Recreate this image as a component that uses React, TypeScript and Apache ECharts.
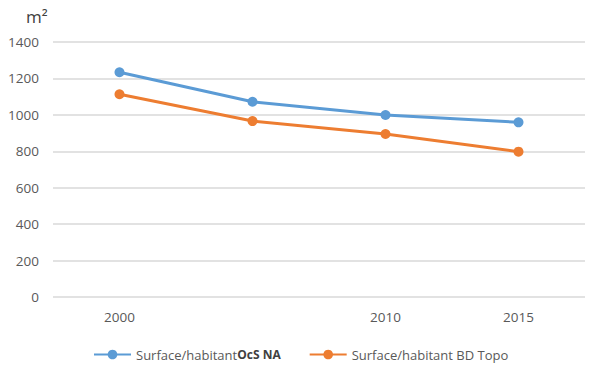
import React, { useEffect, useRef } from "react";
import * as echarts from "echarts";

const categories = ["2000", "", "2010", "2015"];
const ocsNA = [1234, 1072, 999, 959];
const bdTopo = [1113, 966, 895, 798];
const seriesNames = ["Surface/habitantOcS NA", "Surface/habitant BD Topo"];

export default function App() {
  const ref = useRef<HTMLDivElement>(null);
  useEffect(() => {
    document.body.style.margin = "0";
    const chart = echarts.init(ref.current!, undefined, { renderer: "svg" });
    chart.setOption({
      animation: false,
      backgroundColor: "#ffffff",
      textStyle: { fontFamily: "Open Sans" },
      title: {
        text: "m²",
        left: 21,
        top: 3,
        textStyle: { fontSize: 17, fontWeight: "normal", color: "#404040", fontFamily: "Open Sans" },
      },
      grid: { left: 53, right: 8, top: 42, bottom: 72 },
      xAxis: {
        type: "category",
        data: categories,
        boundaryGap: true,
        axisLine: { show: false },
        axisTick: { show: false },
        axisLabel: { color: "#595959", fontSize: 13.5, margin: 13 },
      },
      yAxis: {
        type: "value",
        min: 0,
        max: 1400,
        interval: 200,
        axisLine: { show: false },
        axisTick: { show: false },
        axisLabel: {
          color: "#595959",
          fontSize: 13.5,
          margin: 14,
          formatter: (v: number) => String(v),
        },
        splitLine: { lineStyle: { color: "#d9d9d9", width: 1.5 } },
      },
      legend: {
        left: 88,
        top: 343,
        itemWidth: 37,
        itemHeight: 12,
        itemGap: 28,
        textStyle: {
          color: "#595959",
          fontSize: 13,
          rich: {
            b: { fontSize: 12, fontWeight: "bold", color: "#404040", fontFamily: "Open Sans" },
          },
        },
        formatter: (name: string) =>
          name === seriesNames[0] ? "Surface/habitant{b|OcS NA}" : name,
        data: seriesNames,
      },
      series: [
        {
          name: seriesNames[0],
          type: "line",
          data: ocsNA,
          symbol: "circle",
          symbolSize: 10,
          lineStyle: { width: 3, color: "#5b9bd5" },
          itemStyle: { color: "#5b9bd5" },
        },
        {
          name: seriesNames[1],
          type: "line",
          data: bdTopo,
          symbol: "circle",
          symbolSize: 10,
          lineStyle: { width: 3, color: "#ed7d31" },
          itemStyle: { color: "#ed7d31" },
        },
      ],
    });
    return () => chart.dispose();
  }, []);
  return <div ref={ref} style={{ width: 593, height: 369 }} />;
}
